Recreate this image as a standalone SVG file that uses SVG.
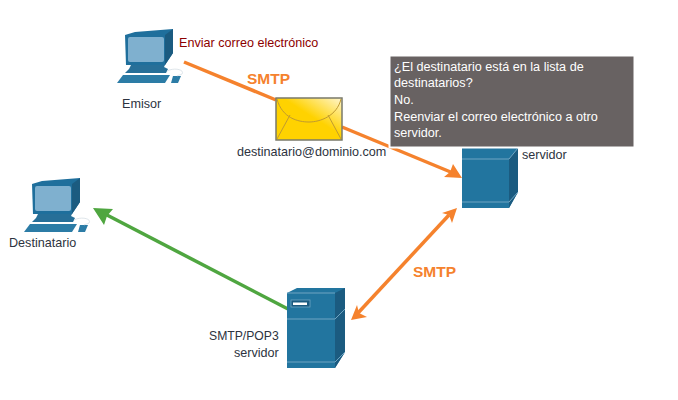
<svg xmlns="http://www.w3.org/2000/svg" width="678" height="400" viewBox="0 0 678 400">
<style>
text{font-family:"Liberation Sans",Arial,sans-serif;font-size:12.600px;fill:#2d3340}
.lbl{font-size:15.500px;font-weight:bold;fill:#f5822d}
.note{fill:#fff;font-size:12.650px}
.o{stroke:#f5822d;stroke-width:3.500;fill:none}
</style>
<defs>
<linearGradient id="env" x1="0" y1="1" x2="1" y2="0"><stop offset="0.55" stop-color="#ffd200"/><stop offset="1" stop-color="#fff6d0"/></linearGradient>
<g id="pc">
<path d="M0 6 L10 3 L48 0 V24 L40 36 H1 Z" fill="#1f6f9c"/>
<path d="M40 6 L48 0 V24 L40 36 Z" fill="#1b5b80"/>
<rect x="3" y="8" width="36" height="25" rx="2" fill="#7fb0cf"/>
<path d="M6 36 H40 L39 38 L43 40 L41 44 H0 L4 40 Z" fill="#276f98"/>
<path d="M-2 46 H45 L40 54 H-8 Z" fill="#2c7ca6"/>
<path d="M48 47 H56 L53 54 H46 Z" fill="#2c7ca6"/>
<path d="M42 42 C50 38 60 41 57 45 C56 46 53 46 52 47" fill="none" stroke="#d6dee4" stroke-width="0.8"/>
</g>
</defs>
<g id="connectors">
<line class="o" x1="184" y1="62" x2="276" y2="100"/>
<line class="o" x1="342" y1="127" x2="453" y2="173"/>
<path d="M462 178 L444 177 L450 172 L453 164 Z" fill="#f5822d"/>
<line class="o" x1="449" y1="215" x2="358" y2="313"/>
<path d="M457 208 L442 213 L449 215 L452 223 Z" fill="#f5822d"/>
<path d="M351 320 L367 317 L359 313 L357 305 Z" fill="#f5822d"/>
<line x1="288" y1="309" x2="105" y2="214" stroke="#4fa640" stroke-width="3.500"/>
<path d="M93 208 L113 209 L107 216 L104 225 Z" fill="#4fa640"/>
</g>
<g id="emisor">
<use href="#pc" x="125" y="29"/>
<text x="122" y="108">Emisor</text>
<text x="179" y="47" style="fill:#8c0000">Enviar correo electrónico</text>
</g>
<g id="destinatario">
<use href="#pc" x="32" y="178"/>
<text x="9" y="247">Destinatario</text>
</g>
<g id="envelope">
<rect x="276" y="98" width="66" height="42" fill="url(#env)" stroke="#7a7a6a" stroke-width="1.500"/>
<path d="M277 99 C282 118 298 122 309 122 C320 122 337 116 341 99 M290 115 L277 139 M328 115 L341 139" fill="none" stroke="#c09a30" stroke-width="1"/>
<text x="237" y="156">destinatario@dominio.com</text>
</g>
<g id="servidor">
<path d="M462 147 H518 V192 L509 208 H462 Z" fill="#22759f"/>
<path d="M509 159 L518 148 V192 L509 208 Z" fill="#1b5b80"/>
<path d="M462 159 H509 L518 148 M462 202 H509 L518 192" fill="none" stroke="#6fa5c2" stroke-width="1"/>
<text x="522" y="159">servidor</text>
</g>
<g id="smtp-pop3">
<path d="M287 293 L297 288 H345 V352 L335 368 H287 Z" fill="#22759f"/>
<path d="M335 293 L345 288 V352 L335 368 Z" fill="#1b5b80"/>
<path d="M287 293 H335 M287 319 H335 L345 309 M287 362 H335 L345 352" fill="none" stroke="#6fa5c2" stroke-width="1"/>
<rect x="291" y="300" width="19" height="7" fill="#1b5b80" stroke="#6fa5c2" stroke-width="0.800"/>
<rect x="293" y="302.500" width="14" height="2.500" fill="#fff"/>
<text x="209" y="340" font-size="12.200" style="font-size:12.200px">SMTP/POP3</text>
<text x="234" y="357">servidor</text>
</g>
<g id="note">
<rect x="389.500" y="55.500" width="245" height="92" fill="#686262" stroke="#fff" stroke-width="2"/>
<text class="note" x="394" y="71">¿El destinatario está en la lista de</text>
<text class="note" x="394" y="87">destinatarios?</text>
<text class="note" x="394" y="104">No.</text>
<text class="note" x="394" y="121">Reenviar el correo electrónico a otro</text>
<text class="note" x="394" y="137">servidor.</text>
</g>
<text class="lbl" x="247" y="84">SMTP</text>
<text class="lbl" x="413" y="277">SMTP</text>
</svg>
